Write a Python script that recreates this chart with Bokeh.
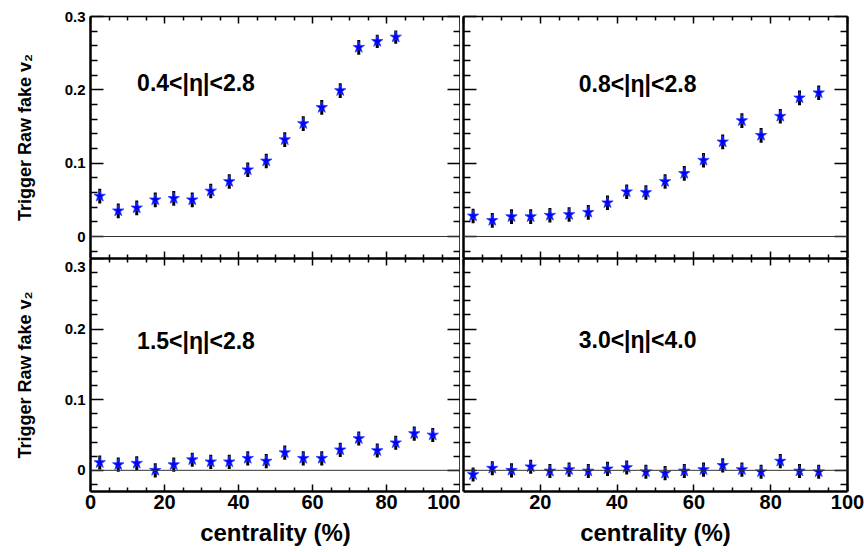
import numpy as np
from bokeh.plotting import figure
from bokeh.layouts import column, row
from bokeh.models import (FixedTicker, LinearAxis, Span, ColumnDataSource, Label, Range1d,
                          CustomLabelingPolicy, CustomJSTickFormatter)
from bokeh.embed import file_html
from bokeh.resources import INLINE

FONT = "Liberation Sans"

# ---------------- data ----------------
centrality = [2.5, 7.5, 12.5, 17.5, 22.5, 27.5, 32.5, 37.5, 42.5, 47.5,
              52.5, 57.5, 62.5, 67.5, 72.5, 77.5, 82.5, 87.5, 92.5]

v2_eta04 = [0.055, 0.035, 0.039, 0.050, 0.052, 0.050, 0.062, 0.075, 0.091, 0.103,
            0.132, 0.154, 0.176, 0.199, 0.258, 0.266, 0.272]
err_eta04 = [0.010, 0.010, 0.010, 0.010, 0.010, 0.010, 0.010, 0.010, 0.010, 0.010,
             0.010, 0.010, 0.010, 0.010, 0.010, 0.009, 0.009]

v2_eta08 = [0.028, 0.022, 0.027, 0.027, 0.029, 0.030, 0.033, 0.046, 0.061, 0.060,
            0.075, 0.086, 0.104, 0.129, 0.158, 0.138, 0.164, 0.189, 0.196]
err_eta08 = [0.010] * 19

v2_eta15 = [0.011, 0.008, 0.010, 0.000, 0.008, 0.015, 0.012, 0.012, 0.017, 0.013,
            0.025, 0.017, 0.017, 0.029, 0.045, 0.028, 0.039, 0.052, 0.050]
err_eta15 = [0.010] * 19

v2_eta30 = [-0.006, 0.003, 0.000, 0.005, -0.001, 0.001, -0.001, 0.002, 0.004, -0.002,
            -0.004, -0.001, 0.001, 0.007, 0.001, -0.002, 0.013, -0.001, -0.002]
err_eta30 = [0.010] * 19

panel_labels = ["0.4<|\u03b7|<2.8", "0.8<|\u03b7|<2.8", "1.5<|\u03b7|<2.8", "3.0<|\u03b7|<4.0"]

x_major = [0, 20, 40, 60, 80, 100]
x_minor = [v for v in range(0, 101, 5) if v % 20 != 0]
y_major = [0, 0.1, 0.2, 0.3]
# lower pads: the "0.3" label is drawn just below the pad boundary
y_label_pos_lower = [0, 0.1, 0.2, 0.288]
y_minor = [-0.02, 0.02, 0.04, 0.06, 0.08, 0.12, 0.14, 0.16, 0.18,
           0.22, 0.24, 0.26, 0.28]

y_title = "Trigger Raw fake v\u2082"
x_title = "centrality (%)"

NO_LABELS = CustomLabelingPolicy(code="return new Set()")


def style_axis(ax, vertical, show_labels, line_width, label_size, majors=None):
    ax.ticker = FixedTicker(ticks=majors if majors is not None else (y_major if vertical else x_major),
                            minor_ticks=y_minor if vertical else x_minor)
    ax.axis_line_color = "black"
    ax.axis_line_width = line_width
    ax.major_tick_line_color = "black"
    ax.minor_tick_line_color = "black"
    ax.major_tick_line_width = 1.5
    ax.minor_tick_line_width = 1.5
    ax.major_tick_out = 0
    ax.minor_tick_out = 0
    if vertical:
        ax.major_tick_in = 13
        ax.minor_tick_in = 7
    else:
        ax.major_tick_in = 7
        ax.minor_tick_in = 4
    ax.major_label_text_font = FONT
    ax.major_label_text_font_style = "bold"
    ax.major_label_text_color = "black"
    ax.axis_label_text_color = "black"
    if show_labels:
        ax.major_label_text_font_size = label_size
        ax.major_label_standoff = 5 if vertical else 3
    else:
        ax.major_label_text_font_size = "0px"
        ax.major_label_standoff = 0
        ax.major_label_policy = NO_LABELS


def set_y_title(ax):
    ax.axis_label = y_title
    ax.axis_label_text_font = FONT
    ax.axis_label_text_font_style = "bold"
    ax.axis_label_text_font_size = "18px"
    ax.axis_label_text_color = "black"
    ax.axis_label_standoff = 27


def make_panel(xs, ys, errs, label, label_x, label_y, left, bottom, top, right_col,
               width, height, mb):
    p = figure(width=width, height=height, output_backend="svg", toolbar_location=None,
               x_range=Range1d(0, 100), y_range=Range1d(-0.03, 0.3),
               min_border_left=mb[0], min_border_right=mb[1],
               min_border_top=mb[2], min_border_bottom=mb[3])
    p.grid.visible = False
    p.outline_line_color = None
    p.background_fill_color = "white"
    p.border_fill_color = "white"

    # left axis
    yl = p.yaxis[0]
    if left and top:
        style_axis(yl, True, True, 2.5, "15px")
        set_y_title(yl)
    else:
        style_axis(yl, True, False, 2.5, "0px")
    if left and not top:
        # label-only axis stacked on the tick axis (which has zero size)
        lab = LinearAxis(ticker=FixedTicker(ticks=y_label_pos_lower, minor_ticks=[]),
                         formatter=CustomJSTickFormatter(
                             code="return tick > 0.25 ? '0.3' : (tick == 0 ? '0' : tick.toFixed(1))"))
        lab.axis_line_color = None
        lab.major_tick_in = 0
        lab.major_tick_out = 0
        lab.minor_tick_in = 0
        lab.minor_tick_out = 0
        lab.major_label_text_font = FONT
        lab.major_label_text_font_style = "bold"
        lab.major_label_text_color = "black"
        lab.major_label_text_font_size = "15px"
        lab.major_label_standoff = 5
        set_y_title(lab)
        p.add_layout(lab, "left")
    # bottom axis
    xb = p.xaxis[0]
    style_axis(xb, False, bottom, 2.5, "20px")
    if bottom:
        xb.axis_label = x_title
        xb.axis_label_text_font = FONT
        xb.axis_label_text_font_style = "bold"
        xb.axis_label_text_font_size = "24px"
        xb.axis_label_text_color = "black"
        xb.axis_label_standoff = 7
        if right_col:
            xb.ticker = FixedTicker(ticks=x_major[1:], minor_ticks=x_minor)
    # right & top axes (ticks only)
    yr = LinearAxis()
    style_axis(yr, True, False, 2.5, "0px")
    p.add_layout(yr, "right")
    xt = LinearAxis()
    style_axis(xt, False, False, 2.5 if not top else 1.5, "0px")
    p.add_layout(xt, "above")

    p.add_layout(Span(location=0, dimension="width", line_color="#333333", line_width=1))

    lo = [y - e for y, e in zip(ys, errs)]
    hi = [y + e for y, e in zip(ys, errs)]
    src = ColumnDataSource(dict(x=xs, y=ys, lo=lo, hi=hi))
    p.segment(x0="x", y0="lo", x1="x", y1="hi", source=src, line_color="black",
              line_width=3)
    p.scatter(x="x", y="y", source=src, marker="star", size=12,
              fill_color="#0000ff", line_color="#2a3cff", line_width=0.8)

    p.add_layout(Label(x=label_x, y=label_y, text=label, text_font=FONT,
                       text_font_style="bold", text_font_size="23px",
                       text_color="black", text_baseline="alphabetic"))
    return p


n04 = len(v2_eta04)
tl = make_panel(centrality[:n04], v2_eta04, err_eta04, panel_labels[0], 12.6, 0.210,
                True, False, True, False, 460, 258, (90, 0, 16, 0))
tr = make_panel(centrality, v2_eta08, err_eta08, panel_labels[1], 30.0, 0.208,
                False, False, True, True, 404, 258, (3, 17, 16, 0))
bl = make_panel(centrality, v2_eta15, err_eta15, panel_labels[2], 12.6, 0.183,
                True, True, False, False, 460, 294, (90, 0, 0, 61))
br = make_panel(centrality, v2_eta30, err_eta30, panel_labels[3], 30.0, 0.184,
                False, True, False, True, 404, 294, (3, 17, 0, 61))

layout = column(row(tl, tr), row(bl, br))

open("out.html", "w").write(file_html(layout, INLINE))
